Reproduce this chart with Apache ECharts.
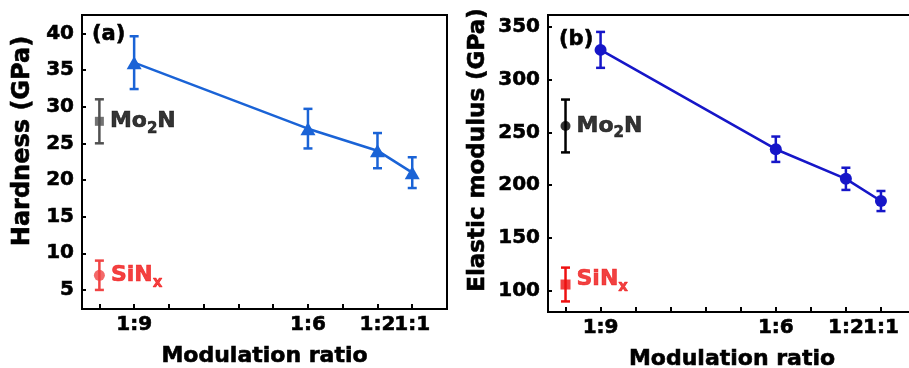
<!DOCTYPE html>
<html>
<head>
<meta charset="utf-8">
<script src="https://cdn.jsdelivr.net/npm/echarts@6.0.0/dist/echarts.min.js"></script>
<style>
  html, body { margin: 0; padding: 0; background: #fff; }
  #chart { width: 909px; height: 368px; }
</style>
</head>
<body>
<div id="chart"></div>
<script>
// x positions on the modulation-ratio axis (reference films sit at 0)
const ratioPos = [1, 6, 8, 9];
const ratioLabels = ['1:9', '1:6', '1:2', '1:1'];
const tickPos = [0, 1, 2, 3, 4, 5, 6, 7, 8, 9];
const labelPos = [1, 6, 8, 9, 10]; // 10 = blank end label, keeps 1:2 and 1:1 both visible
const refPos = 0;

// (a) hardness, GPa
const hardness = [36, 27, 24, 21];
const hardnessErr = [3.6, 2.7, 2.4, 2.1];
const hardMo2N = [28, 3];
const hardSiNx = [7, 2];
const hardTicks = [5, 10, 15, 20, 25, 30, 35, 40];

// (b) elastic modulus, GPa
const modulus = [328, 234, 206, 185];
const modulusErr = [17, 12, 10.5, 9.5];
const modMo2N = [256, 25];
const modSiNx = [106, 16];
const modTicks = [100, 150, 200, 250, 300, 350];

const FONT = 'DejaVu Sans';
const chart = echarts.init(document.getElementById('chart'));

const labelFor = v => {
  const i = ratioPos.indexOf(v);
  return i >= 0 ? ratioLabels[i] : '';
};

// vertical error bar with caps
const errBar = (color, capW) => (params, api) => {
  const x = api.value(0);
  const lo = api.coord([x, api.value(1)]);
  const hi = api.coord([x, api.value(2)]);
  const hw = capW / 2;
  const st = { stroke: color, lineWidth: 2.5 };
  return {
    type: 'group',
    children: [
      { type: 'line', shape: { x1: lo[0], y1: lo[1], x2: hi[0], y2: hi[1] }, style: st },
      { type: 'line', shape: { x1: lo[0] - hw, y1: lo[1], x2: lo[0] + hw, y2: lo[1] }, style: st },
      { type: 'line', shape: { x1: hi[0] - hw, y1: hi[1], x2: hi[0] + hw, y2: hi[1] }, style: st }
    ]
  };
};

const errData = (xs, ys, es) => xs.map((x, i) => [x, ys[i] - es[i], ys[i] + es[i]]);

const heavy = c => ({ textBorderColor: c, textBorderWidth: 0.6 });

const subLabel = (main1, sub, main2, color, offset) => ({
  show: true,
  position: 'right',
  distance: 6,
  offset: offset || [0, 0],
  color: color,
  formatter: `{t|${main1}}{s|${sub}}{t|${main2}}`,
  rich: {
    t: Object.assign({ fontFamily: FONT, fontWeight: 'bold', fontSize: 22, color: color, lineHeight: 30 }, heavy(color)),
    s: Object.assign({ fontFamily: FONT, fontWeight: 'bold', fontSize: 15, color: color, verticalAlign: 'bottom', lineHeight: 14 }, heavy(color))
  }
});

const xAxisFor = (gi) => ({
  gridIndex: gi,
  type: 'value',
  min: -0.5,
  max: 10,
  axisLine: { show: true, onZero: false, lineStyle: { color: '#000', width: 2 } },
  axisTick: { show: true, inside: true, length: 5, customValues: tickPos, lineStyle: { color: '#000', width: 2 } },
  axisLabel: Object.assign({
    customValues: labelPos, formatter: labelFor, margin: 6, hideOverlap: false,
    color: '#000', fontFamily: FONT, fontWeight: 'bold', fontSize: 20
  }, heavy('#000')),
  splitLine: { show: false },
  name: 'Modulation ratio',
  nameLocation: 'middle',
  nameGap: 36,
  nameTextStyle: Object.assign({ color: '#000', fontFamily: FONT, fontWeight: 'bold', fontSize: 22 }, heavy('#000'))
});

const yAxisFor = (gi, min, max, ticks) => ({
  gridIndex: gi,
  type: 'value',
  min: min,
  max: max,
  axisLine: { show: true, onZero: false, lineStyle: { color: '#000', width: 2 } },
  axisTick: { show: true, inside: true, length: 4, customValues: ticks, lineStyle: { color: '#000', width: 2 } },
  axisLabel: Object.assign({
    customValues: ticks, margin: 8, hideOverlap: false,
    color: '#000', fontFamily: FONT, fontWeight: 'bold', fontSize: 20
  }, heavy('#000')),
  splitLine: { show: false }
});

const blueA = '#1a63d6';
const blueB = '#1616c8';
const grayA = '#505050';
const redA = '#f04444';
const redB = '#ee1111';

const textStyle = (txt, size) => ({
  text: txt, font: `bold ${size}px "${FONT}"`, fill: '#000', stroke: '#000', lineWidth: 0.6
});

const option = {
  animation: false,
  backgroundColor: '#fff',
  grid: [
    { left: 82, top: 15, right: 462, bottom: 59, show: true, borderColor: '#000', borderWidth: 2,
      outerBoundsMode: 'none' },
    { left: 548, top: 15, right: -7, bottom: 56, show: true, borderColor: '#000', borderWidth: 2,
      outerBoundsMode: 'none' }
  ],
  xAxis: [xAxisFor(0), xAxisFor(1)],
  yAxis: [yAxisFor(0, 2.4, 42.5, hardTicks), yAxisFor(1, 80, 361, modTicks)],
  graphic: [
    { type: 'text', x: 23, y: 141, rotation: Math.PI / 2,
      style: Object.assign(textStyle('Hardness (GPa)', 24), { align: 'center', verticalAlign: 'middle' }) },
    { type: 'text', x: 478, y: 150, rotation: Math.PI / 2,
      style: Object.assign(textStyle('Elastic modulus (GPa)', 23), { align: 'center', verticalAlign: 'middle' }) },
    { type: 'text', x: 92, y: 35,
      style: Object.assign(textStyle('(a)', 21), { align: 'left', verticalAlign: 'middle' }) },
    { type: 'text', x: 559, y: 40,
      style: Object.assign(textStyle('(b)', 21), { align: 'left', verticalAlign: 'middle' }) }
  ],
  series: [
    // ---- (a) hardness ----
    { type: 'custom', xAxisIndex: 0, yAxisIndex: 0, renderItem: errBar(blueA, 9),
      data: errData(ratioPos, hardness, hardnessErr), z: 2 },
    { type: 'line', xAxisIndex: 0, yAxisIndex: 0, data: ratioPos.map((x, i) => [x, hardness[i]]),
      symbol: 'triangle', symbolSize: [15, 13], showAllSymbol: true,
      lineStyle: { color: blueA, width: 2.6 }, itemStyle: { color: blueA }, z: 3 },
    { type: 'custom', xAxisIndex: 0, yAxisIndex: 0, renderItem: errBar(grayA, 9),
      data: [[refPos, hardMo2N[0] - hardMo2N[1], hardMo2N[0] + hardMo2N[1]]], z: 2 },
    { type: 'scatter', xAxisIndex: 0, yAxisIndex: 0, data: [[refPos, hardMo2N[0]]],
      symbol: 'rect', symbolSize: 9, itemStyle: { color: grayA }, z: 3,
      label: subLabel('Mo', '2', 'N', '#000') },
    { type: 'custom', xAxisIndex: 0, yAxisIndex: 0, renderItem: errBar(redA, 9),
      data: [[refPos, hardSiNx[0] - hardSiNx[1], hardSiNx[0] + hardSiNx[1]]], z: 2 },
    { type: 'scatter', xAxisIndex: 0, yAxisIndex: 0, data: [[refPos, hardSiNx[0]]],
      symbol: 'circle', symbolSize: 11, itemStyle: { color: redA }, z: 3,
      label: subLabel('SiN', 'x', '', '#f01010') },

    // ---- (b) elastic modulus ----
    { type: 'custom', xAxisIndex: 1, yAxisIndex: 1, renderItem: errBar(blueB, 9),
      data: errData(ratioPos, modulus, modulusErr), z: 2 },
    { type: 'line', xAxisIndex: 1, yAxisIndex: 1, data: ratioPos.map((x, i) => [x, modulus[i]]),
      symbol: 'circle', symbolSize: 12, showAllSymbol: true,
      lineStyle: { color: blueB, width: 2.6 }, itemStyle: { color: blueB }, z: 3 },
    { type: 'custom', xAxisIndex: 1, yAxisIndex: 1, renderItem: errBar('#000', 9),
      data: [[refPos, modMo2N[0] - modMo2N[1], modMo2N[0] + modMo2N[1]]], z: 2 },
    { type: 'scatter', xAxisIndex: 1, yAxisIndex: 1, data: [[refPos, modMo2N[0]]],
      symbol: 'circle', symbolSize: 10, itemStyle: { color: '#000' }, z: 3,
      label: subLabel('Mo', '2', 'N', '#000') },
    { type: 'custom', xAxisIndex: 1, yAxisIndex: 1, renderItem: errBar(redB, 9),
      data: [[refPos, modSiNx[0] - modSiNx[1], modSiNx[0] + modSiNx[1]]], z: 2 },
    { type: 'scatter', xAxisIndex: 1, yAxisIndex: 1, data: [[refPos, modSiNx[0]]],
      symbol: 'rect', symbolSize: 10, itemStyle: { color: redB }, z: 3,
      label: subLabel('SiN', 'x', '', redB, [0, -5]) }
  ]
};

chart.setOption(option);
</script>
</body>
</html>
